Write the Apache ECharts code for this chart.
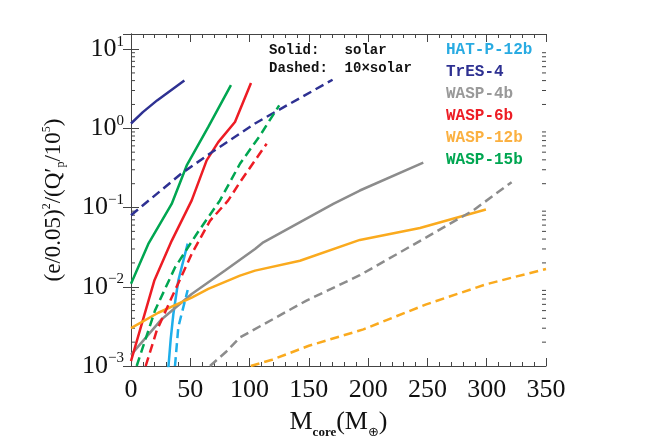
<!DOCTYPE html>
<html>
<head>
<meta charset="utf-8">
<script src="https://cdn.jsdelivr.net/npm/echarts@6/dist/echarts.min.js"></script>
<style>
  html, body { margin: 0; padding: 0; background: #fff; }
  #chart { width: 654px; height: 436px; }
</style>
</head>
<body>
<div id="chart"></div>
<script>
// curves: [Mcore, (e/0.05)^2/(Q'p/1e5)]
const hatSolar = [[31.5, 0.00095], [33.5, 0.0022], [35.7, 0.0045], [39.9, 0.012], [47.8, 0.035]];
const hatMetal = [[37.1, 0.001], [39.9, 0.0031], [44.1, 0.0055], [47.8, 0.0091]];
const tresSolar = [[0, 1.15], [10, 1.6], [22, 2.25], [45, 4.0]];
const tresMetal = [[0, 0.08], [42.7, 0.27], [66.6, 0.48], [104.6, 1.15], [119.7, 1.55], [170, 4.1]];
const wasp4Solar = [[0, 0.00138], [25.9, 0.0039], [51.2, 0.0081], [79.3, 0.016], [104.6, 0.03], [111.6, 0.0364], [170.6, 0.111], [193, 0.164], [246.5, 0.368]];
const wasp4Metal = [[66.6, 0.001], [80, 0.0015], [92, 0.0023], [148, 0.0067], [193, 0.014], [249, 0.042], [288.6, 0.092], [321, 0.209]];
const wasp6Solar = [[0, 0.00115], [19.6, 0.0119], [34.3, 0.038], [51.2, 0.123], [63.8, 0.394], [73.6, 0.67], [87.7, 1.2], [101.2, 3.74]];
const wasp6Metal = [[12.4, 0.001], [21.7, 0.0028], [34.3, 0.0073], [51.2, 0.026], [66.6, 0.068], [82, 0.123], [91.9, 0.209], [114.4, 0.64]];
const wasp12Solar = [[0, 0.003], [23, 0.0047], [51.2, 0.0073], [65.2, 0.0094], [91.9, 0.0138], [104.6, 0.016], [142.5, 0.0213], [193, 0.039], [243.7, 0.0553], [299.3, 0.0944]];
const wasp12Metal = [[101, 0.001], [119, 0.0012], [150, 0.0018], [196, 0.0029], [249, 0.006], [300, 0.0108], [350, 0.0168]];
const wasp15Solar = [[0, 0.0109], [14.6, 0.0347], [34.3, 0.111], [47, 0.34], [65.2, 1.04], [84.3, 3.5]];
const wasp15Metal = [[4.8, 0.001], [20.2, 0.005], [37.1, 0.0175], [55.4, 0.0464], [75, 0.123], [91.9, 0.357], [108.8, 0.81], [125, 1.95]];

const planetNames = ['HAT-P-12b', 'TrES-4', 'WASP-4b', 'WASP-6b', 'WASP-12b', 'WASP-15b'];
const planetColors = ['#1EAEEA', '#2E3192', '#8C8C8C', '#ED1C24', '#FAAA1E', '#00A651'];
const labelColors = ['#29ABE2', '#2E3192', '#999999', '#ED1C24', '#FBB040', '#00A651'];
const solarCurves = [hatSolar, tresSolar, wasp4Solar, wasp6Solar, wasp12Solar, wasp15Solar];
const metalCurves = [hatMetal, tresMetal, wasp4Metal, wasp6Metal, wasp12Metal, wasp15Metal];

const yMinorTicks = [];
[0.001, 0.01, 0.1, 1, 10].forEach(d => {
  for (let k = 2; k <= 9; k++) {
    if (d * k < 15.5) yMinorTicks.push(d * k);
  }
});

const chart = echarts.init(document.getElementById('chart'));

const serif = 'Liberation Serif';

function powLabel(v) {
  const lg = Math.log10(v);
  const n = Math.round(lg);
  if (Math.abs(lg - n) > 1e-6) return '';
  return '{b|10}{s|' + (n < 0 ? '\u2212' + (-n) : n) + '}';
}

const axisLineStyle = { color: '#444', width: 1 };

const series = [];
solarCurves.forEach((d, i) => {
  series.push({
    type: 'line', data: d, symbol: 'none',
    lineStyle: { color: planetColors[i], width: 2.5 },
    z: 3
  });
});
metalCurves.forEach((d, i) => {
  series.push({
    type: 'line', data: d, symbol: 'none',
    lineStyle: { color: planetColors[i], width: 2.5, type: [9, 5] },
    z: 3
  });
});
// log minor ticks on left and right frame
series.push({
  type: 'custom',
  data: yMinorTicks.map(v => [0, v]),
  silent: true,
  clip: false,
  renderItem: function (params, api) {
    const v = api.value(1);
    const p = api.coord([0, v]);
    const q = api.coord([350, v]);
    const st = { stroke: '#444', lineWidth: 1 };
    return {
      type: 'group',
      children: [
        { type: 'line', shape: { x1: p[0], y1: p[1], x2: p[0] + 4, y2: p[1] }, style: st },
        { type: 'line', shape: { x1: q[0] - 4, y1: q[1], x2: q[0], y2: q[1] }, style: st }
      ]
    };
  }
});

const option = {
  backgroundColor: '#fff',
  animation: false,
  grid: { left: 131, right: 108, top: 34, bottom: 70, outerBoundsMode: 'none' },
  xAxis: [
    {
      type: 'value', min: 0, max: 350, interval: 50,
      axisLine: { lineStyle: axisLineStyle },
      axisTick: { inside: true, length: 8, lineStyle: axisLineStyle },
      minorTick: { show: true, splitNumber: 5, length: 4, lineStyle: axisLineStyle },
      splitLine: { show: false },
      axisLabel: { fontFamily: serif, fontSize: 26, color: '#111', margin: 11 },
      name: '{a|M}{sub|core}{a|(M}{sub2|\u2295}{a|)}',
      nameLocation: 'middle', nameGap: 43,
      nameTextStyle: {
        rich: {
          a: { fontFamily: serif, fontSize: 26, color: '#111', lineHeight: 30, verticalAlign: 'top' },
          sub: { fontFamily: serif, fontSize: 13, fontWeight: 'bold', color: '#111', lineHeight: 13, verticalAlign: 'bottom' },
          sub2: { fontFamily: 'DejaVu Sans', fontSize: 13, color: '#111', lineHeight: 13, verticalAlign: 'bottom' }
        }
      }
    },
    {
      type: 'value', min: 0, max: 350, interval: 50, position: 'top',
      axisLine: { lineStyle: axisLineStyle },
      axisTick: { inside: true, length: 8, lineStyle: axisLineStyle },
      minorTick: { show: true, splitNumber: 5, length: 4, lineStyle: axisLineStyle },
      splitLine: { show: false },
      axisLabel: { show: false }
    }
  ],
  yAxis: [
    {
      type: 'log', logBase: 10, min: 0.001, max: 15.5,
      axisLine: { show: true, lineStyle: axisLineStyle },
      axisTick: { show: true, inside: true, length: 8, lineStyle: axisLineStyle },
      splitLine: { show: false },
      axisLabel: {
        margin: 7,
        formatter: powLabel,
        rich: {
          b: { fontFamily: serif, fontSize: 26, color: '#111', lineHeight: 30, verticalAlign: 'middle' },
          s: { fontFamily: serif, fontSize: 15, color: '#111', lineHeight: 15, verticalAlign: 'top' }
        }
      },
      name: '{a|(e/0.05)}{sup|2}{a|/(Q\u2032}{sub|p}{a|/10}{sup|5}{a|)}',
      nameLocation: 'middle', nameRotate: 90, nameGap: 64,
      nameTextStyle: {
        rich: {
          a: { fontFamily: serif, fontSize: 23, color: '#111', lineHeight: 26, verticalAlign: 'middle' },
          sup: { fontFamily: serif, fontSize: 12, color: '#111', lineHeight: 12, verticalAlign: 'top' },
          sub: { fontFamily: serif, fontSize: 12, color: '#111', lineHeight: 12, verticalAlign: 'bottom' }
        }
      }
    },
    {
      type: 'log', logBase: 10, min: 0.001, max: 15.5, position: 'right',
      axisLine: { show: true, lineStyle: axisLineStyle },
      axisTick: { show: true, inside: true, length: 8, lineStyle: axisLineStyle },
      splitLine: { show: false },
      axisLabel: { show: false }
    }
  ],
  graphic: [
    { type: 'text', left: 269, top: 43, style: { text: 'Solid:   solar', font: 'bold 14px "Liberation Mono"', fill: '#111' } },
    { type: 'text', left: 269, top: 61, style: { text: 'Dashed:  10\u00d7solar', font: 'bold 14px "Liberation Mono"', fill: '#111' } }
  ].concat(planetNames.map((n, i) => ({
    type: 'text', left: 446, top: 42 + i * 22,
    style: { text: n, font: 'bold 16px "Liberation Mono"', fill: labelColors[i] }
  }))),
  series: series
};

chart.setOption(option);
</script>
</body>
</html>
